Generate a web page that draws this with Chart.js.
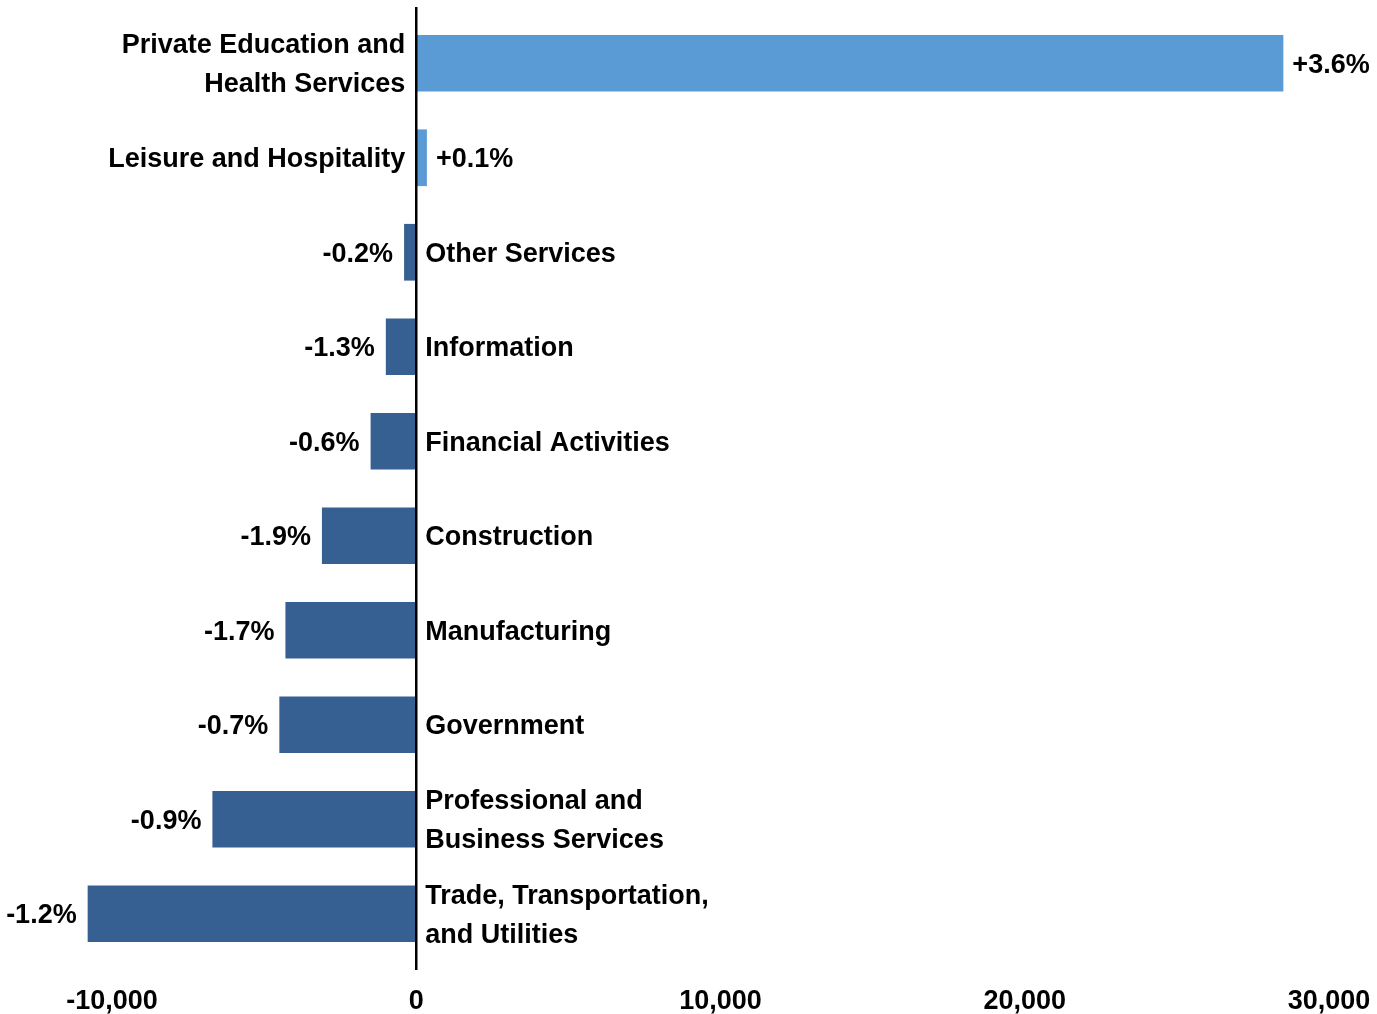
<!DOCTYPE html>
<html lang="en">
<head>
    <meta charset="UTF-8">
    <title>Employment change by industry</title>
    <script src="https://cdn.jsdelivr.net/npm/chart.js"></script>
    <style>
        body { margin: 0; background: #fff; }
        .chart-box { width: 1377px; height: 1014px; position: relative; }
    </style>
</head>
<body>
    <div class="chart-box">
        <canvas id="jobsChart"></canvas>
    </div>

    <script>
        // industries, top to bottom
        const categories = [
            ["Private Education and", "Health Services"],
            ["Leisure and Hospitality"],
            ["Other Services"],
            ["Information"],
            ["Financial Activities"],
            ["Construction"],
            ["Manufacturing"],
            ["Government"],
            ["Professional and", "Business Services"],
            ["Trade, Transportation,", "and Utilities"]
        ];
        // change in jobs
        const jobChange = [28500, 350, -400, -1000, -1500, -3100, -4300, -4500, -6700, -10800];
        // percent change shown at bar ends
        const pctLabels = ["+3.6%", "+0.1%", "-0.2%", "-1.3%", "-0.6%", "-1.9%", "-1.7%", "-0.7%", "-0.9%", "-1.2%"];
        const xTicks = [-10000, 0, 10000, 20000, 30000];

        const FONT = '"Liberation Sans", Arial, sans-serif';
        const POS_COLOR = '#5b9bd5';
        const NEG_COLOR = '#376092';

        // zero line + category names + percent labels
        const labelPlugin = {
            id: 'barLabels',
            afterDatasetsDraw(chart) {
                const ctx = chart.ctx;
                const xs = chart.scales.x;
                const area = chart.chartArea;
                const x0 = xs.getPixelForValue(0);

                ctx.save();
                ctx.strokeStyle = '#000';
                ctx.lineWidth = 2.5;
                ctx.beginPath();
                ctx.moveTo(x0, area.top - 9);
                ctx.lineTo(x0, area.bottom + 9);
                ctx.stroke();

                ctx.font = 'bold 27px ' + FONT;
                ctx.fillStyle = '#000';
                ctx.textBaseline = 'middle';
                const meta = chart.getDatasetMeta(0);
                meta.data.forEach((bar, i) => {
                    const v = jobChange[i];
                    const y = bar.y + 2;
                    const end = xs.getPixelForValue(v);
                    const lines = categories[i];
                    const lh = 39;
                    if (v >= 0) {
                        ctx.textAlign = 'right';
                        lines.forEach((t, k) => ctx.fillText(t, x0 - 11, y + (k - (lines.length - 1) / 2) * lh));
                        ctx.textAlign = 'left';
                        ctx.fillText(pctLabels[i], end + 9, y);
                    } else {
                        ctx.textAlign = 'left';
                        lines.forEach((t, k) => ctx.fillText(t, x0 + 9, y + (k - (lines.length - 1) / 2) * lh));
                        ctx.textAlign = 'right';
                        ctx.fillText(pctLabels[i], end - 11, y);
                    }
                });
                ctx.restore();
            }
        };

        new Chart(document.getElementById('jobsChart'), {
            type: 'bar',
            data: {
                labels: categories,
                datasets: [{
                    data: jobChange,
                    backgroundColor: jobChange.map(v => v >= 0 ? POS_COLOR : NEG_COLOR),
                    borderWidth: 0,
                    categoryPercentage: 1,
                    barPercentage: 0.6,
                    clip: false
                }]
            },
            options: {
                indexAxis: 'y',
                responsive: true,
                maintainAspectRatio: false,
                animation: false,
                layout: { padding: { left: 112, right: 48, top: 16, bottom: 0 } },
                plugins: {
                    legend: { display: false },
                    tooltip: { enabled: false }
                },
                scales: {
                    x: {
                        min: -10000,
                        max: 30000,
                        afterBuildTicks: axis => { axis.ticks = xTicks.map(v => ({ value: v })); },
                        afterFit: axis => {
                            axis.height = 53;
                            axis.paddingLeft = 0;
                            axis.paddingRight = 0;
                        },
                        grid: { display: false, drawTicks: false },
                        border: { display: false },
                        ticks: {
                            padding: 24,
                            color: '#000',
                            font: { family: FONT, size: 27, weight: 'bold' },
                            maxRotation: 0,
                            callback: v => v.toLocaleString('en-US')
                        }
                    },
                    y: {
                        display: false
                    }
                }
            },
            plugins: [labelPlugin]
        });
    </script>
</body>
</html>
